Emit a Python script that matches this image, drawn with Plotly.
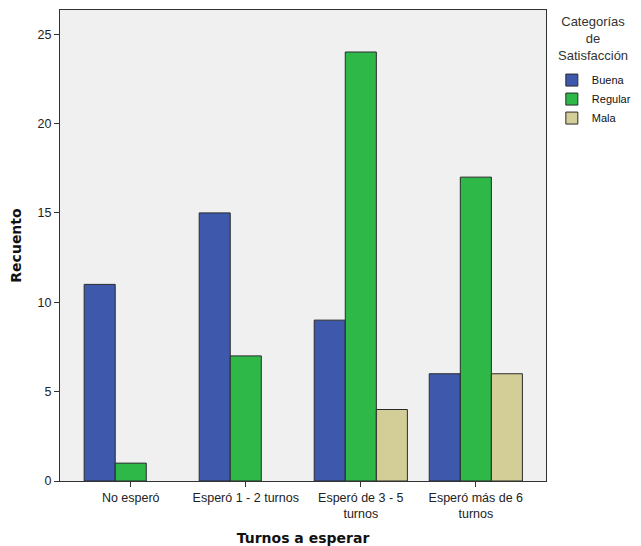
import plotly.graph_objects as go

categories = ["No esperó", "Esperó 1 - 2 turnos", "Esperó de 3 - 5<br>turnos", "Esperó más de 6<br>turnos"]
buena = [11, 15, 9, 6]
regular = [1, 7, 24, 17]
mala = [None, None, 4, 6]
series_names = ["Buena", "Regular", "Mala"]
colors = ["#3E58AC", "#2EB848", "#D3CE97"]
legend_title = "Categorías<br>de<br>Satisfacción"

fig = go.Figure()
for name, vals, col in zip(series_names, [buena, regular, mala], colors):
    fig.add_trace(go.Bar(
        x=list(range(len(categories))), y=vals, name=name,
        marker=dict(color=col, line=dict(color="#2a2a2a", width=1)),
    ))

fig.add_annotation(
    text=legend_title, xref="paper", yref="paper", x=1.097, y=0.94,
    xanchor="center", yanchor="middle", align="center", showarrow=False,
    font=dict(family="Liberation Sans, Arial, sans-serif", size=13, color="#333"),
)

fig.update_layout(
    width=633, height=538,
    barmode="group", bargap=0.19, bargroupgap=0,
    paper_bgcolor="white", plot_bgcolor="#F0F0F0",
    margin=dict(l=52, r=95, t=1, b=58),
    font=dict(family="Liberation Sans, Arial, sans-serif", size=12.5, color="#222"),
    legend=dict(
        x=1.012, xanchor="left", y=0.882, yanchor="top",
        font=dict(size=11, color="#111"), itemwidth=30, tracegroupgap=0,
        bgcolor="rgba(0,0,0,0)",
    ),
    xaxis=dict(
        tickmode="array", tickvals=list(range(len(categories))), ticktext=categories,
        range=[-0.615, 3.61], showgrid=False, zeroline=False,
        ticks="outside", ticklen=5, tickcolor="#333",
        showline=True, linecolor="#333", linewidth=1, mirror=True,
        title=dict(text="<b>Turnos a esperar</b>", font=dict(family="DejaVu Sans, sans-serif", size=14, color="#111"), standoff=14),
    ),
    yaxis=dict(
        range=[0, 26.35], tickvals=[0, 5, 10, 15, 20, 25], showgrid=False, zeroline=False,
        ticks="outside", ticklen=5, tickcolor="#333",
        showline=True, linecolor="#333", linewidth=1, mirror=True,
        title=dict(text="<b>Recuento</b>", font=dict(family="DejaVu Sans, sans-serif", size=14, color="#111"), standoff=12),
    ),
)

fig.write_html("out.html")
